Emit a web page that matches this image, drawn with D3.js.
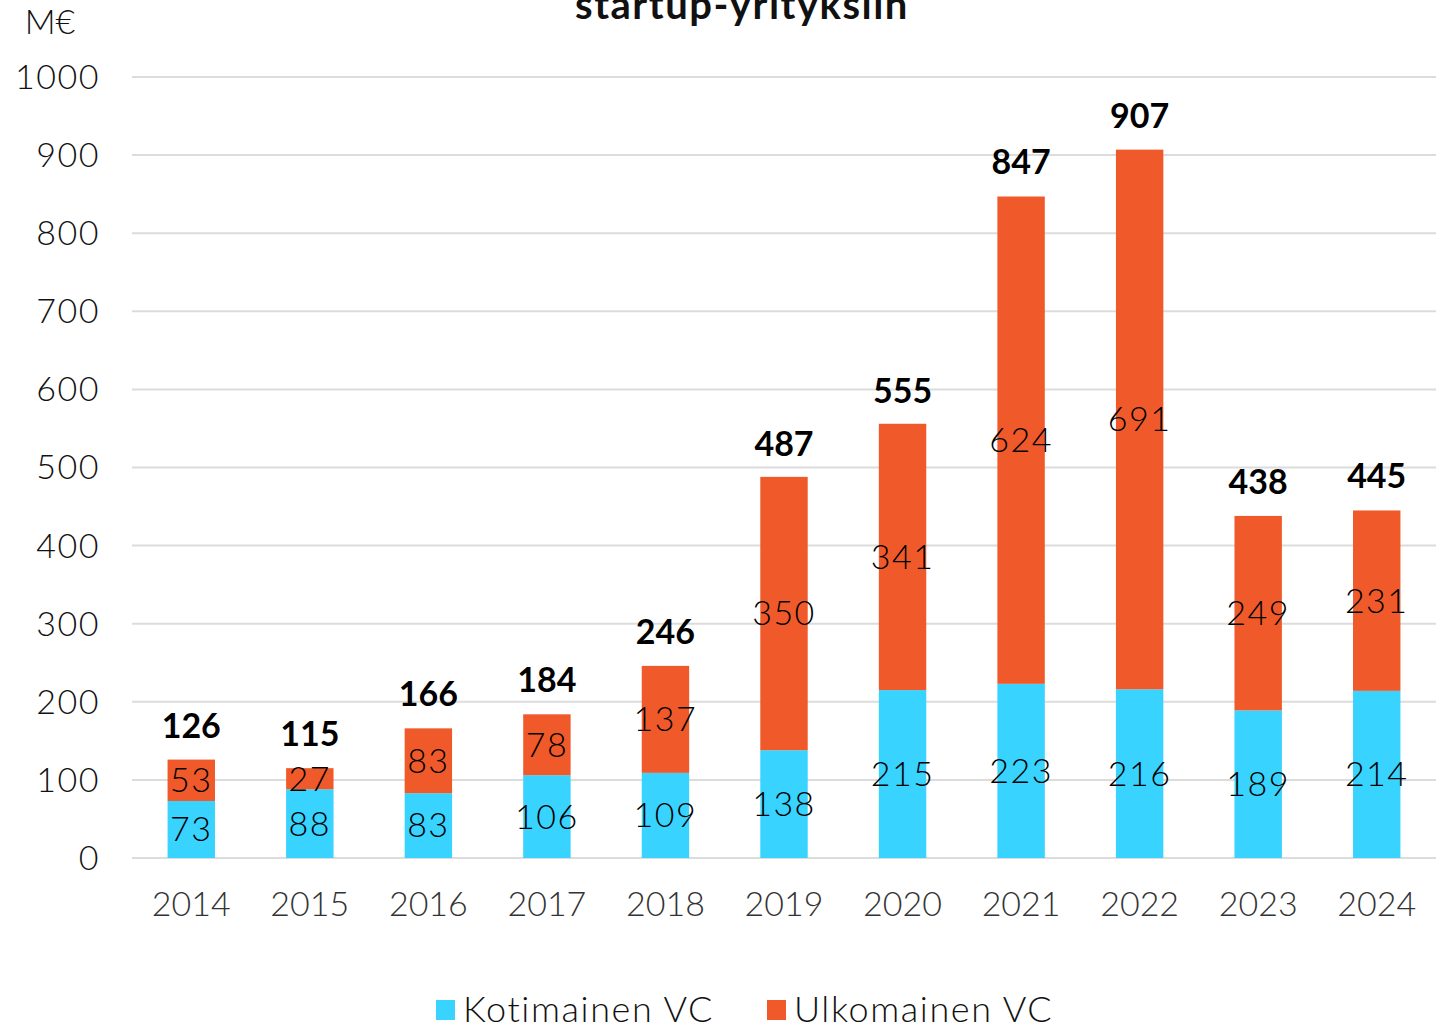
<!DOCTYPE html>
<html>
<head>
<meta charset="utf-8">
<script src="https://cdn.jsdelivr.net/npm/d3@7"></script>
<style>
  body { margin: 0; background: #fff; }
  svg { font-family: "Lato", "Noto Sans", sans-serif; }
</style>
</head>
<body>
<svg id="chart" width="1445" height="1028"></svg>
<script>
// data
const years = ['2014', '2015', '2016', '2017', '2018', '2019', '2020', '2021', '2022', '2023', '2024'];
const domestic = [73, 88, 83, 106, 109, 138, 215, 223, 216, 189, 214];
const foreign = [53, 27, 83, 78, 137, 350, 341, 624, 691, 249, 231];
const totals = [126, 115, 166, 184, 246, 487, 555, 847, 907, 438, 445];
const yTicks = [0, 100, 200, 300, 400, 500, 600, 700, 800, 900, 1000];
const seriesNames = ['Kotimainen VC', 'Ulkomainen VC'];
const colors = ['#38d3ff', '#f05a2b'];

const svg = d3.select('#chart');
const margin = { top: 77, right: 9, bottom: 170, left: 132 };
const width = 1445 - margin.left - margin.right;
const height = 1028 - margin.top - margin.bottom;

const g = svg.append('g').attr('transform', `translate(${margin.left},${margin.top})`);

const x = d3.scaleBand().domain(years).range([0, width]).paddingInner(0.6).paddingOuter(0.3);
const y = d3.scaleLinear().domain([0, 1000]).range([height, 0]);

// gridlines
g.selectAll('.grid')
  .data(yTicks)
  .join('line')
  .attr('x1', 0).attr('x2', width)
  .attr('y1', d => y(d)).attr('y2', d => y(d))
  .attr('stroke', '#dcdcdc')
  .attr('stroke-width', 2);

// y axis labels
g.selectAll('.ytick')
  .data(yTicks)
  .join('text')
  .attr('x', -32)
  .attr('y', d => y(d))
  .attr('dy', '0.35em')
  .attr('text-anchor', 'end')
  .attr('font-size', 34)
  .attr('font-weight', 300)
  .attr('letter-spacing', 1.5)
  .attr('fill', '#111')
  .text(d => d);

// unit label
svg.append('text')
  .attr('x', 50).attr('y', 22).attr('dy', '0.35em')
  .attr('text-anchor', 'middle')
  .attr('font-size', 34).attr('font-weight', 300).attr('fill', '#111')
  .text('M€');

// title (partly clipped at top, as in the source)
svg.append('text')
  .attr('x', 742).attr('y', 19)
  .attr('text-anchor', 'middle')
  .attr('font-size', 40).attr('font-weight', 'bold').attr('letter-spacing', 1.5).attr('fill', '#111')
  .text('startup-yrityksiin');

// stacked bars
const rows = years.map((yr, i) => ({ year: yr, domestic: domestic[i], foreign: foreign[i], total: totals[i] }));
const stack = d3.stack().keys(['domestic', 'foreign'])(rows);

stack.forEach((layer, li) => {
  g.selectAll(`.bar${li}`)
    .data(layer)
    .join('rect')
    .attr('x', d => x(d.data.year))
    .attr('width', x.bandwidth())
    .attr('y', d => y(d[1]))
    .attr('height', d => y(d[0]) - y(d[1]))
    .attr('fill', colors[li]);

  g.selectAll(`.lab${li}`)
    .data(layer)
    .join('text')
    .attr('x', d => x(d.data.year) + x.bandwidth() / 2)
    .attr('y', d => y((d[0] + d[1]) / 2))
    .attr('dy', '0.35em')
    .attr('text-anchor', 'middle')
    .attr('font-size', 34)
    .attr('font-weight', 300)
    .attr('letter-spacing', 1.5)
    .attr('fill', '#000')
    .text(d => d[1] - d[0]);
});

// totals
g.selectAll('.total')
  .data(rows)
  .join('text')
  .attr('x', d => x(d.year) + x.bandwidth() / 2)
  .attr('y', d => y(d.total) - 22)
  .attr('text-anchor', 'middle')
  .attr('font-size', 34)
  .attr('font-weight', 'bold')
  .attr('fill', '#000')
  .text(d => d.total);

// x axis labels
g.selectAll('.xlab')
  .data(years)
  .join('text')
  .attr('x', d => x(d) + x.bandwidth() / 2)
  .attr('y', height + 46)
  .attr('dy', '0.35em')
  .attr('text-anchor', 'middle')
  .attr('font-size', 34)
  .attr('font-weight', 300)
  .attr('fill', '#333')
  .text(d => d);

// legend
const legendX = [436, 767];
const legend = svg.selectAll('.legend')
  .data(seriesNames)
  .join('g')
  .attr('transform', (d, i) => `translate(${legendX[i]},1000)`);
legend.append('rect')
  .attr('width', 19).attr('height', 20)
  .attr('fill', (d, i) => colors[i]);
legend.append('text')
  .attr('x', 27).attr('y', 9).attr('dy', '0.35em')
  .attr('font-size', 36).attr('font-weight', 300).attr('letter-spacing', 1.6).attr('fill', '#111')
  .text(d => d);
</script>
</body>
</html>
